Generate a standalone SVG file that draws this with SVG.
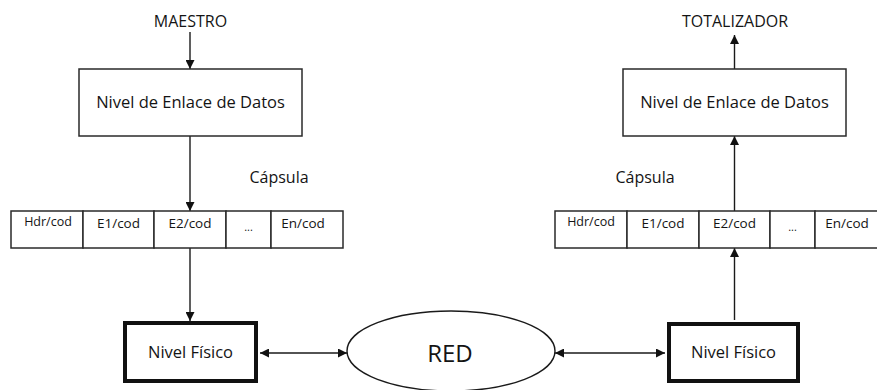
<svg xmlns="http://www.w3.org/2000/svg" width="877" height="390" viewBox="0 0 877 390">
  <style>
    text { font-family: "Open Sans", "Liberation Sans", sans-serif; fill: #141414; text-anchor: middle; }
    .box { fill: #ffffff; stroke: #2a2a2a; stroke-width: 1.5; }
    .thick { fill: #ffffff; stroke: #111111; stroke-width: 4; }
    .cell { fill: #ffffff; stroke: #2a2a2a; stroke-width: 1.5; }
    .lbl { font-size: 16.5px; }
    .cap { font-size: 13.5px; }
    .wire { fill: none; stroke: #1a1a1a; stroke-width: 1.4; }
  </style>
  <defs>
    <marker id="arrow" viewBox="0 0 10 10" refX="10" refY="5" markerWidth="9" markerHeight="9" markerUnits="userSpaceOnUse" orient="auto-start-reverse">
      <path d="M0,0 L10,5 L0,10 z" fill="#111111"/>
    </marker>
  </defs>
  <rect width="877" height="390" fill="#ffffff"/>

  <!-- top labels -->
  <text x="190.5" y="27" class="lbl" style="font-size:16px">MAESTRO</text>
  <text x="735" y="27" class="lbl" style="font-size:16px">TOTALIZADOR</text>
  <text x="279" y="183" class="lbl" style="font-size:16px">Cápsula</text>
  <text x="645" y="183" class="lbl" style="font-size:16px">Cápsula</text>

  <!-- connectors -->
  <g id="connectors">
    <line class="wire" x1="190" y1="32" x2="190" y2="69" marker-end="url(#arrow)"/>
    <line class="wire" x1="190" y1="136" x2="190" y2="211" marker-end="url(#arrow)"/>
    <line class="wire" x1="190" y1="248" x2="190" y2="321" marker-end="url(#arrow)"/>
    <line class="wire" x1="260" y1="353" x2="347" y2="353" marker-start="url(#arrow)" marker-end="url(#arrow)"/>
    <line class="wire" x1="555" y1="353" x2="665" y2="353" marker-start="url(#arrow)" marker-end="url(#arrow)"/>
    <line class="wire" x1="734.5" y1="320" x2="734.5" y2="248" marker-end="url(#arrow)"/>
    <line class="wire" x1="734.5" y1="211" x2="734.5" y2="136" marker-end="url(#arrow)"/>
    <line class="wire" x1="734.5" y1="69" x2="734.5" y2="35" marker-end="url(#arrow)"/>
  </g>

  <!-- left side -->
  <g id="enlace-izq">
    <rect class="box" x="79" y="69" width="223" height="67"/>
    <text x="190.5" y="108" class="lbl">Nivel de Enlace de Datos</text>
  </g>
  <g id="capsula-izq">
    <rect class="cell" x="11" y="211" width="72" height="37"/>
    <rect class="cell" x="83" y="211" width="71" height="37"/>
    <rect class="cell" x="154" y="211" width="72" height="37"/>
    <rect class="cell" x="226" y="211" width="45" height="37"/>
    <rect class="cell" x="271" y="211" width="72" height="37"/>
    <text x="48" y="226" class="cap" style="font-size:12.5px">Hdr/cod</text>
    <text x="118.5" y="228" class="cap">E1/cod</text>
    <text x="190" y="228" class="cap">E2/cod</text>
    <text x="248.5" y="231" class="cap" style="font-size:11px">...</text>
    <text x="303" y="228" class="cap">En/cod</text>
  </g>
  <g id="fisico-izq">
    <rect class="thick" x="125" y="323" width="131" height="58"/>
    <text x="190.5" y="358" class="lbl">Nivel Físico</text>
  </g>

  <!-- network -->
  <g id="red">
    <ellipse cx="451" cy="351" rx="104" ry="40" fill="#ffffff" stroke="#1a1a1a" stroke-width="1.4"/>
    <text x="450" y="362" style="font-size:24px">RED</text>
  </g>

  <!-- right side -->
  <g id="enlace-der">
    <rect class="box" x="623" y="69" width="223" height="67"/>
    <text x="734.5" y="108" class="lbl">Nivel de Enlace de Datos</text>
  </g>
  <g id="capsula-der">
    <rect class="cell" x="555" y="211" width="72" height="37"/>
    <rect class="cell" x="627" y="211" width="72" height="37"/>
    <rect class="cell" x="699" y="211" width="71" height="37"/>
    <rect class="cell" x="770" y="211" width="45" height="37"/>
    <rect class="cell" x="815" y="211" width="72" height="37"/>
    <text x="591" y="226" class="cap" style="font-size:12.5px">Hdr/cod</text>
    <text x="663" y="228" class="cap">E1/cod</text>
    <text x="734.5" y="228" class="cap">E2/cod</text>
    <text x="792.5" y="231" class="cap" style="font-size:11px">...</text>
    <text x="847" y="228" class="cap">En/cod</text>
  </g>
  <g id="fisico-der">
    <rect class="thick" x="669" y="324" width="129" height="57"/>
    <text x="733.5" y="358" class="lbl">Nivel Físico</text>
  </g>
</svg>
